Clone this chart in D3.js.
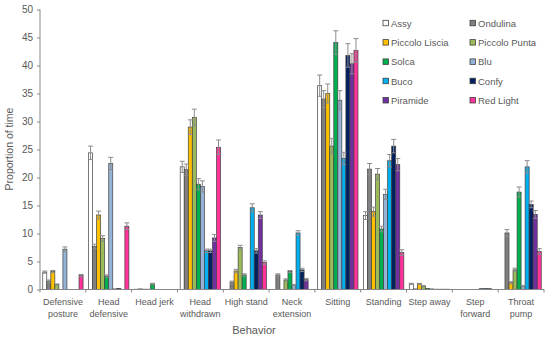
<!DOCTYPE html>
<meta charset="utf-8">
<style>
body { margin: 0; background: #fff; }
text { font-family: "Liberation Sans", Arial, sans-serif; fill: #595959; }
</style>
<svg width="550" height="339"></svg>
<script src="https://cdn.jsdelivr.net/npm/d3@7/dist/d3.min.js"></script>
<script>

var categories = ["Defensive posture", "Head defensive", "Head jerk", "Head withdrawn", "High stand",
  "Neck extension", "Sitting", "Standing", "Step away", "Step forward", "Throat pump"]
var tickLines = [["Defensive", "posture"], ["Head", "defensive"], ["Head jerk"], ["Head", "withdrawn"], ["High stand"],
  ["Neck", "extension"], ["Sitting"], ["Standing"], ["Step away"], ["Step", "forward"], ["Throat", "pump"]]

var seriesNames = ["Assy", "Ondulina", "Piccolo Liscia", "Piccolo Punta", "Solca", "Blu", "Buco", "Confy", "Piramide", "Red Light"]
var seriesColors = ["#ffffff", "#808080", "#ffc000", "#9bbb59", "#00b050", "#95b3d7", "#00b0f0", "#002060", "#7030a0", "#ff3399"]

// mean proportion of time, one array per series (same order as categories)
var assy      = [3.1, 24.4, 0.05, 21.9, 0, 0, 36.4, 13.2, 1.0, 0, 0]
var ondulina  = [1.5, 7.7, 0.1, 21.4, 1.3, 2.6, 34.0, 21.5, 0.1, 0, 10.1]
var pLiscia   = [3.2, 13.3, 0.05, 29.0, 3.3, 0, 35.0, 13.9, 1.0, 0, 1.2]
var pPunta    = [0.9, 9.1, 0.05, 30.7, 7.5, 1.7, 25.6, 20.6, 0.6, 0, 3.5]
var solca     = [0, 2.4, 1.0, 18.8, 2.6, 3.2, 44.1, 10.8, 0.2, 0, 17.4]
var blu       = [7.2, 22.5, 0, 18.4, 0, 0.8, 33.8, 17.0, 0.1, 0, 0.6]
var buco      = [0, 0.1, 0, 6.9, 14.6, 10.1, 23.4, 23.0, 0.05, 0.15, 21.9]
var confy     = [0, 0.2, 0, 6.9, 6.9, 3.5, 41.8, 25.6, 0.05, 0.15, 15.2]
var piramide  = [0, 0, 0, 9.2, 13.3, 1.75, 40.3, 22.3, 0.05, 0.15, 13.4]
var redLight  = [2.5, 11.3, 0, 25.4, 4.8, 0, 42.7, 6.6, 0.05, 0, 6.8]

// standard errors
var assyErr     = [0.2, 1.2, 0, 1.0, 0, 0, 1.9, 0.7, 0.1, 0, 0]
var ondulinaErr = [0.2, 0.4, 0, 1.0, 0.2, 0.2, 1.5, 1.0, 0, 0, 0.6]
var pLisciaErr  = [0.2, 0.7, 0, 1.3, 0.3, 0, 1.7, 0.8, 0.1, 0, 0.2]
var pPuntaErr   = [0.1, 0.5, 0, 1.5, 0.4, 0.2, 1.4, 1.0, 0.1, 0, 0.3]
var solcaErr    = [0, 0.2, 0.1, 1.0, 0.2, 0.2, 2.1, 0.5, 0, 0, 0.9]
var bluErr      = [0.4, 1.1, 0, 1.0, 0, 0.1, 1.7, 0.9, 0, 0, 0.1]
var bucoErr     = [0, 0, 0, 0.3, 0.7, 0.4, 1.1, 1.1, 0, 0, 1.1]
var confyErr    = [0, 0, 0, 0.3, 0.4, 0.3, 2.1, 1.2, 0, 0, 0.6]
var piramideErr = [0, 0, 0, 0.6, 0.6, 0.2, 1.8, 1.1, 0, 0, 0.7]
var redLightErr = [0.2, 0.6, 0, 1.3, 0.3, 0, 2.1, 0.5, 0, 0, 0.5]

var yTicks = [0, 5, 10, 15, 20, 25, 30, 35, 40, 45, 50]

var means = [assy, ondulina, pLiscia, pPunta, solca, blu, buco, confy, piramide, redLight]
var errs = [assyErr, ondulinaErr, pLisciaErr, pPuntaErr, solcaErr, bluErr, bucoErr, confyErr, piramideErr, redLightErr]

var plotLeft = 40, plotRight = 544, plotTop = 9.5, plotBottom = 289.5

var svg = d3.select("svg")

var x0 = d3.scaleBand().domain(categories).range([plotLeft, plotRight]).paddingInner(0.12).paddingOuter(0.06)
var x1 = d3.scaleBand().domain(seriesNames).range([0, x0.bandwidth()])
var y = d3.scaleLinear().domain([0, 50]).range([plotBottom, plotTop])

var bars = []
categories.forEach(function(c, ci){
  seriesNames.forEach(function(s, si){
    bars.push({cat: c, name: s, color: seriesColors[si], v: means[si][ci], e: errs[si][ci]})
  })
})

// bars
svg.append("g").selectAll("rect")
  .data(bars)
  .enter().append("rect")
    .attr("x", function(d){ return x0(d.cat) + x1(d.name) })
    .attr("y", function(d){ return y(d.v) })
    .attr("width", x1.bandwidth())
    .attr("height", function(d){ return y(0) - y(d.v) })
    .attr("fill", function(d){ return d.color })
    .attr("stroke", "#404040")
    .attr("stroke-width", 0.7)

// error bars
var eb = svg.append("g").attr("stroke", "#8c8c8c").attr("stroke-width", 1)
  .selectAll("g").data(bars.filter(function(d){ return d.e > 0 }))
  .enter().append("g")
eb.append("line")
  .attr("x1", function(d){ return x0(d.cat) + x1(d.name) + x1.bandwidth() / 2 })
  .attr("x2", function(d){ return x0(d.cat) + x1(d.name) + x1.bandwidth() / 2 })
  .attr("y1", function(d){ return y(d.v - d.e) })
  .attr("y2", function(d){ return y(d.v + d.e) })
eb.append("line")
  .attr("x1", function(d){ return x0(d.cat) + x1(d.name) - 0.5 })
  .attr("x2", function(d){ return x0(d.cat) + x1(d.name) + x1.bandwidth() + 0.5 })
  .attr("y1", function(d){ return y(d.v + d.e) })
  .attr("y2", function(d){ return y(d.v + d.e) })
eb.append("line")
  .attr("x1", function(d){ return x0(d.cat) + x1(d.name) })
  .attr("x2", function(d){ return x0(d.cat) + x1(d.name) + x1.bandwidth() })
  .attr("y1", function(d){ return y(d.v - d.e) })
  .attr("y2", function(d){ return y(d.v - d.e) })

// y axis
var yAxis = svg.append("g")
  .attr("transform", "translate(" + plotLeft + ",0)")
  .call(d3.axisLeft(y).tickValues(yTicks).tickSize(3).tickPadding(4))
yAxis.selectAll("path, line").attr("stroke", "#868686")
yAxis.selectAll("text").style("font-size", "10px").attr("font-family", null).attr("fill", "#595959")
yAxis.select(".domain").attr("d", "M0," + plotBottom + "V" + plotTop)

// x axis
var bounds = categories.map(function(c){ return x0(c) - x0.step() * x0.paddingInner() / 2 })
bounds.push(plotRight)
var xg = svg.append("g")
xg.append("line").attr("x1", plotLeft).attr("x2", plotRight).attr("y1", plotBottom).attr("y2", plotBottom).attr("stroke", "#868686")
xg.selectAll(".tk").data(bounds).enter().append("line")
  .attr("x1", function(d){ return d }).attr("x2", function(d){ return d })
  .attr("y1", plotBottom).attr("y2", plotBottom + 3).attr("stroke", "#868686")

var lbl = xg.selectAll(".lbl").data(categories).enter().append("text")
  .attr("text-anchor", "middle")
  .style("font-size", "9px")
  .attr("x", function(c){ return x0(c) + x0.bandwidth() / 2 })
  .attr("y", 305)
lbl.selectAll("tspan").data(function(c, i){ return tickLines[i] }).enter().append("tspan")
  .attr("x", function(){ var c = d3.select(this.parentNode).datum(); return x0(c) + x0.bandwidth() / 2 })
  .attr("dy", function(d, i){ return i ? 11.6 : 0 })
  .text(function(d){ return d })

// axis titles
svg.append("text").attr("x", 254).attr("y", 334).attr("text-anchor", "middle").style("font-size", "11px").text("Behavior")
svg.append("text").attr("transform", "translate(13,149) rotate(-90)").attr("text-anchor", "middle")
  .style("font-size", "10.5px").text("Proportion of time")

// legend
var lg = svg.append("g").selectAll("g").data(seriesNames).enter().append("g")
  .attr("transform", function(d, i){ return "translate(" + (i % 2 ? 470 : 383) + "," + (23.3 + Math.floor(i / 2) * 19.3) + ")" })
lg.append("rect").attr("x", 0).attr("y", -3).attr("width", 5.5).attr("height", 5.5)
  .attr("fill", function(d, i){ return seriesColors[i] }).attr("stroke", "#404040").attr("stroke-width", 0.8)
lg.append("text").attr("x", 8).attr("y", 3.3).style("font-size", "9.5px").text(function(d){ return d })

</script>
